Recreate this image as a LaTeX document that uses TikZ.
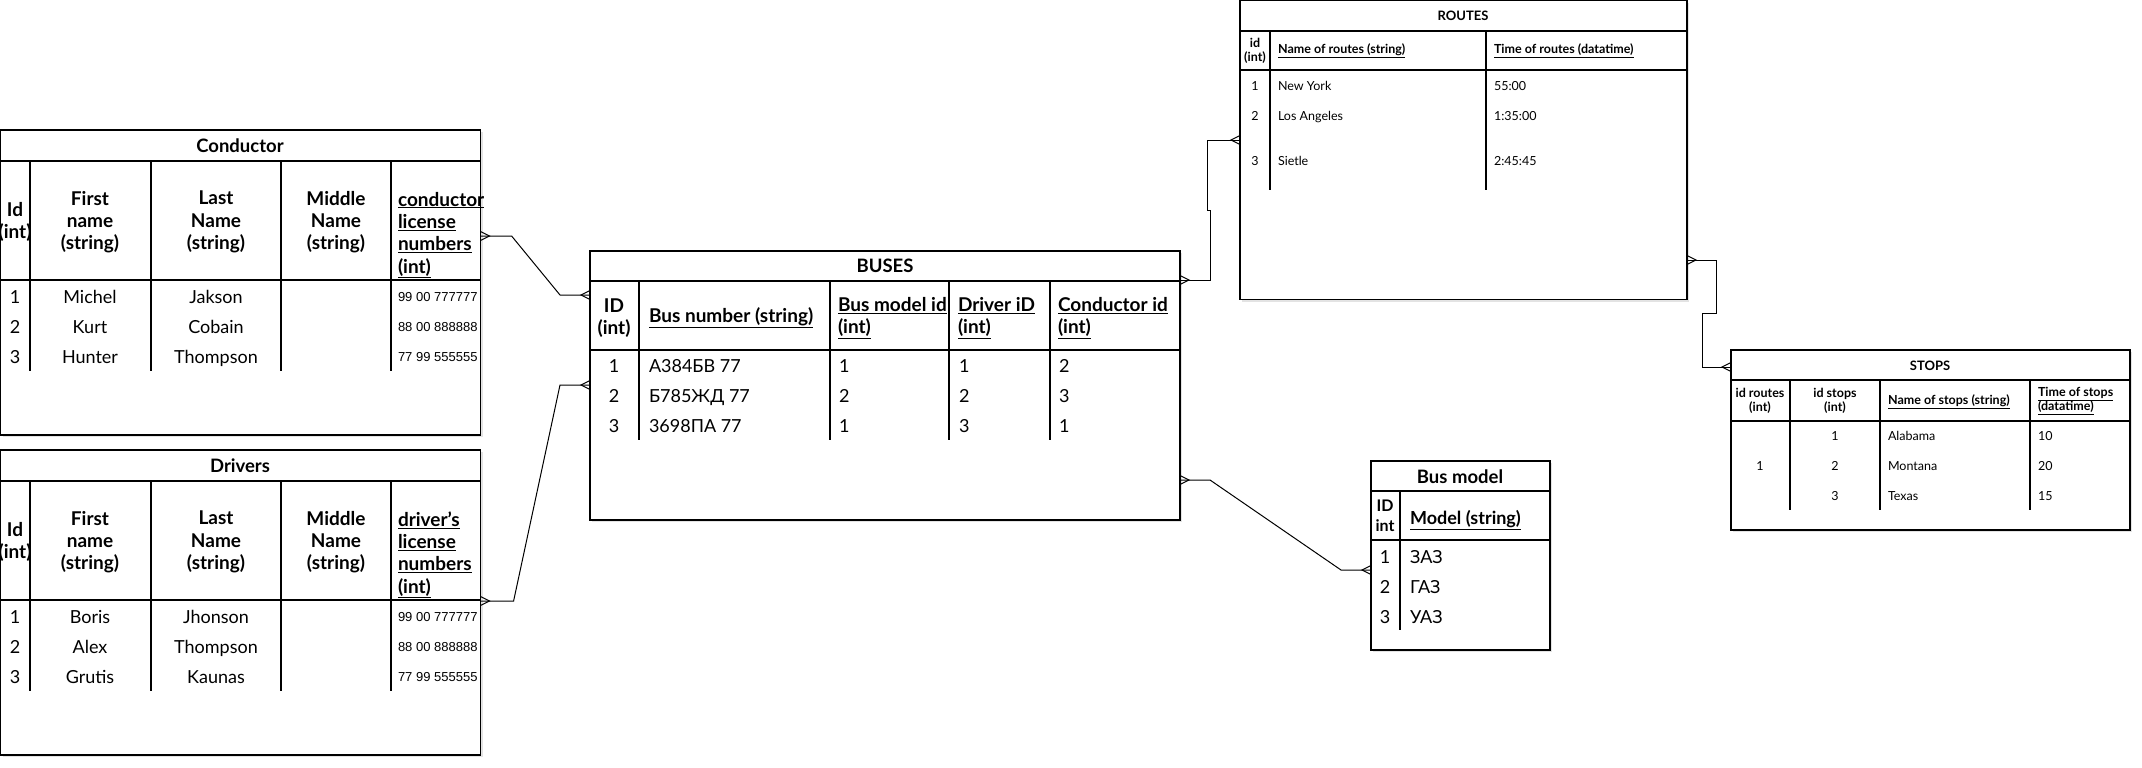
\documentclass[tikz,border=0pt]{standalone}
\usepackage{fontspec}
\setmainfont{Lato}
\newfontfamily\numfont{Liberation Sans}
\usetikzlibrary{calc,shadows}

\tikzset{
  x=1pt, y=-1pt,
  tbl/.style={draw=black, line width=1.2pt, fill=white, inner sep=0pt, outer sep=0pt, anchor=north west,
    drop shadow={shadow xshift=2pt, shadow yshift=-2pt, opacity=0.18, fill=black!60}},
  ln/.style={line width=1.2pt, draw=black},
  conn/.style={line width=1pt, draw=black},
  t/.style={inner sep=0pt, outer sep=0pt, text=black},
  bigttl/.style={t, font=\fontsize{18.5}{22}\selectfont\bfseries},
  smallttl/.style={t, font=\fontsize{13}{15}\selectfont\bfseries},
  phdr/.style={t, font=\fontsize{19}{22.3}\selectfont\bfseries, align=center},
  pdat/.style={t, font=\fontsize{18}{22}\selectfont, anchor=base, yshift=-6.5pt},
  pnum/.style={t, font=\numfont\fontsize{13}{15}\selectfont, anchor=base west, yshift=-4.7pt},
  bhdr/.style={t, font=\fontsize{19}{22}\selectfont\bfseries, align=left},
  bdat/.style={t, font=\fontsize{18}{20}\selectfont, anchor=base, yshift=-6.5pt},
  rhdr/.style={t, font=\fontsize{12.5}{14}\selectfont\bfseries, align=left},
  rdat/.style={t, font=\fontsize{12.5}{15}\selectfont, anchor=base, yshift=-4.5pt},
  mhdr/.style={t, font=\fontsize{18}{21}\selectfont\bfseries, align=left},
  mdat/.style={t, font=\fontsize{18}{22}\selectfont, anchor=base, yshift=-6.5pt},
  lft/.style={anchor=base west},
  crow/.pic={\draw[conn] (0,-4.5) -- (9,0) -- (0,4.5);}
}

\newcommand\persontable[9]{%
  \node[tbl, minimum width=480, minimum height=305] (#1) at (0.6,0) {};
  \node[bigttl] (#1-t) at (240,16) {#2};
  \draw[ln] (0.6,31) -- (480.6,31) (0.6,150) -- (480.6,150);
  \draw[ln] (30,31) -- (30,241) (151,31) -- (151,241) (281,31) -- (281,241) (391,31) -- (391,241);
  \node[phdr] (#1-h1) at (15,92) {Id\\(int)};
  \node[phdr] (#1-h2) at (90,92) {First\\name\\(string)};
  \node[phdr] (#1-h3) at (216,92) {Last\\Name\\(string)};
  \node[phdr] (#1-h4) at (336,92) {Middle\\Name\\(string)};
  \node[phdr, align=left, anchor=west] (#1-h5) at (398,105) {\underline{#3}\\\underline{license}\\\underline{numbers}\\\underline{(int)}};
  \node[pdat] (#1-a1) at (15,167) {1};
  \node[pdat] (#1-a2) at (15,197) {2};
  \node[pdat] (#1-a3) at (15,227) {3};
  \node[pdat] (#1-b1) at (90,167) {#4};
  \node[pdat] (#1-b2) at (90,197) {#5};
  \node[pdat] (#1-b3) at (90,227) {#6};
  \node[pdat] (#1-c1) at (216,167) {#7};
  \node[pdat] (#1-c2) at (216,197) {#8};
  \node[pdat] (#1-c3) at (216,227) {#9};
  \node[pnum] (#1-d1) at (398,167) {99 00 777777};
  \node[pnum] (#1-d2) at (398,197) {88 00 888888};
  \node[pnum] (#1-d3) at (398,227) {77 99 555555};
}

\begin{document}
\begin{tikzpicture}
\fill[white] (0,0) rectangle (2142,768);
\useasboundingbox (0,0) rectangle (2142,768);

% Conductor
\begin{scope}[shift={(0,130)}]
\persontable{cond}{Conductor}{conductor}{Michel}{Kurt}{Hunter}{Jakson}{Cobain}{Thompson}
\end{scope}

% Drivers
\begin{scope}[shift={(0,450)}]
\persontable{drv}{Drivers}{driver's}{Boris}{Alex}{Grutis}{Jhonson}{Thompson}{Kaunas}
\end{scope}

% BUSES
\node[tbl, minimum width=590, minimum height=269] (bus) at (590,251) {};
\node[bigttl] (bus-t) at (885,266) {BUSES};
\draw[ln] (590,281) -- (1180,281) (590,350) -- (1180,350);
\draw[ln] (639,281) -- (639,440) (830,281) -- (830,440) (949,281) -- (949,440) (1050,281) -- (1050,440);
\node[bhdr, align=center] (bus-h1) at (614,318) {ID\\(int)};
\node[bhdr, anchor=west] (bus-h2) at (649,318) {\underline{Bus number (string)}};
\node[bhdr, anchor=west] (bus-h3) at (838,318) {\underline{Bus model id}\\\underline{(int)}};
\node[bhdr, anchor=west] (bus-h4) at (958,318) {\underline{Driver iD}\\\underline{(int)}};
\node[bhdr, anchor=west] (bus-h5) at (1058,318) {\underline{Conductor id}\\\underline{(int)}};
\node[bdat] (bus-a1) at (614,366) {1};
\node[bdat] (bus-a2) at (614,396) {2};
\node[bdat] (bus-a3) at (614,426) {3};
\node[bdat, lft] (bus-b1) at (649,366) {А384БВ 77};
\node[bdat, lft] (bus-b2) at (649,396) {Б785ЖД 77};
\node[bdat, lft] (bus-b3) at (649,426) {3698ПА 77};
\node[bdat, lft] (bus-c1) at (839,366) {1};
\node[bdat, lft] (bus-c2) at (839,396) {2};
\node[bdat, lft] (bus-c3) at (839,426) {1};
\node[bdat, lft] (bus-d1) at (959,366) {1};
\node[bdat, lft] (bus-d2) at (959,396) {2};
\node[bdat, lft] (bus-d3) at (959,426) {3};
\node[bdat, lft] (bus-e1) at (1059,366) {2};
\node[bdat, lft] (bus-e2) at (1059,396) {3};
\node[bdat, lft] (bus-e3) at (1059,426) {1};

% ROUTES
\node[tbl, minimum width=447, minimum height=299] (rt) at (1240,0.6) {};
\node[smallttl] (rt-t) at (1463,16) {ROUTES};
\draw[ln] (1240,31) -- (1687,31) (1240,70) -- (1687,70);
\draw[ln] (1270,31) -- (1270,190) (1486,31) -- (1486,190);
\node[rhdr, align=center] (rt-h1) at (1255,51) {id\\(int)};
\node[rhdr, anchor=west] (rt-h2) at (1278,51) {\underline{Name of routes (string)}};
\node[rhdr, anchor=west] (rt-h3) at (1494,51) {\underline{Time of routes (datatime)}};
\node[rdat] (rt-a1) at (1255,86) {1};
\node[rdat] (rt-a2) at (1255,116) {2};
\node[rdat] (rt-a3) at (1255,161) {3};
\node[rdat, lft] (rt-b1) at (1278,86) {New York};
\node[rdat, lft] (rt-b2) at (1278,116) {Los Angeles};
\node[rdat, lft] (rt-b3) at (1278,161) {Sietle};
\node[rdat, lft] (rt-c1) at (1494,86) {55:00};
\node[rdat, lft] (rt-c2) at (1494,116) {1:35:00};
\node[rdat, lft] (rt-c3) at (1494,161) {2:45:45};

% STOPS
\node[tbl, minimum width=399, minimum height=180] (st) at (1731,350) {};
\node[smallttl] (st-t) at (1930,366) {STOPS};
\draw[ln] (1731,380) -- (2130,380) (1731,421) -- (2130,421);
\draw[ln] (1790,380) -- (1790,510) (1880,380) -- (1880,510) (2030,380) -- (2030,510);
\node[rhdr, align=center] (st-h1) at (1760,401) {id routes\\(int)};
\node[rhdr, align=center] (st-h2) at (1835,401) {id stops\\(int)};
\node[rhdr, anchor=west] (st-h3) at (1888,402) {\underline{Name of stops (string)}};
\node[rhdr, anchor=west] (st-h4) at (2038,401) {\underline{Time of stops}\\\underline{(datatime)}};
\node[rdat] (st-a) at (1760,466) {1};
\node[rdat] (st-b1) at (1835,436) {1};
\node[rdat] (st-b2) at (1835,466) {2};
\node[rdat] (st-b3) at (1835,496) {3};
\node[rdat, lft] (st-c1) at (1888,436) {Alabama};
\node[rdat, lft] (st-c2) at (1888,466) {Montana};
\node[rdat, lft] (st-c3) at (1888,496) {Texas};
\node[rdat, lft] (st-d1) at (2038,436) {10};
\node[rdat, lft] (st-d2) at (2038,466) {20};
\node[rdat, lft] (st-d3) at (2038,496) {15};

% Bus model
\node[tbl, minimum width=179, minimum height=189] (bm) at (1371,461) {};
\node[bigttl] (bm-t) at (1460,477) {Bus model};
\draw[ln] (1371,491) -- (1550,491) (1371,540) -- (1550,540);
\draw[ln] (1400,491) -- (1400,630);
\node[mhdr, align=center, font=\fontsize{16}{20}\selectfont\bfseries] (bm-h1) at (1385,516) {ID\\int};
\node[mhdr, anchor=west] (bm-h2) at (1410,520) {\underline{Model (string)}};
\node[mdat] (bm-a1) at (1385,557) {1};
\node[mdat] (bm-a2) at (1385,587) {2};
\node[mdat] (bm-a3) at (1385,617) {3};
\node[mdat, lft] (bm-b1) at (1410,557) {ЗАЗ};
\node[mdat, lft] (bm-b2) at (1410,587) {ГАЗ};
\node[mdat, lft] (bm-b3) at (1410,617) {УАЗ};

% connector end points
\coordinate (c1) at ($(cond.north east)+(0,106)$);
\coordinate (c2) at ($(bus.north west)+(0,44)$);
\coordinate (d1) at ($(drv.north east)+(0,151)$);
\coordinate (d2) at ($(bus.north west)+(0,134)$);
\coordinate (b3) at ($(bus.north east)+(0,29)$);
\coordinate (r3) at ($(rt.north west)+(0,139.4)$);
\coordinate (r4) at ($(rt.north east)+(0,259.4)$);
\coordinate (s4) at ($(st.north west)+(0,17)$);
\coordinate (b5) at ($(bus.north east)+(0,229)$);
\coordinate (m5) at ($(bm.north west)+(0,109)$);

% connectors
\draw[conn] (c1) -- ++(31,0) -- ($(c2)+(-30,0)$) -- (c2);
\pic at (c1) {crow}; \pic[rotate=180] at (c2) {crow};

\draw[conn] (d1) -- ++(33,0) -- ($(d2)+(-30,0)$) -- (d2);
\pic at (d1) {crow}; \pic[rotate=180] at (d2) {crow};

\draw[conn] (b3) -- ++(30,0) -- ++(0,-70) -- ++(-3,0) |- (r3);
\pic at (b3) {crow}; \pic[rotate=180] at (r3) {crow};

\draw[conn] (r4) -- ++(29,0) -- ++(0,53) -- ++(-14,0) |- (s4);
\pic at (r4) {crow}; \pic[rotate=180] at (s4) {crow};

\draw[conn] (b5) -- ++(30,0) -- ($(m5)+(-30,0)$) -- (m5);
\pic at (b5) {crow}; \pic[rotate=180] at (m5) {crow};
\end{tikzpicture}
\end{document}
